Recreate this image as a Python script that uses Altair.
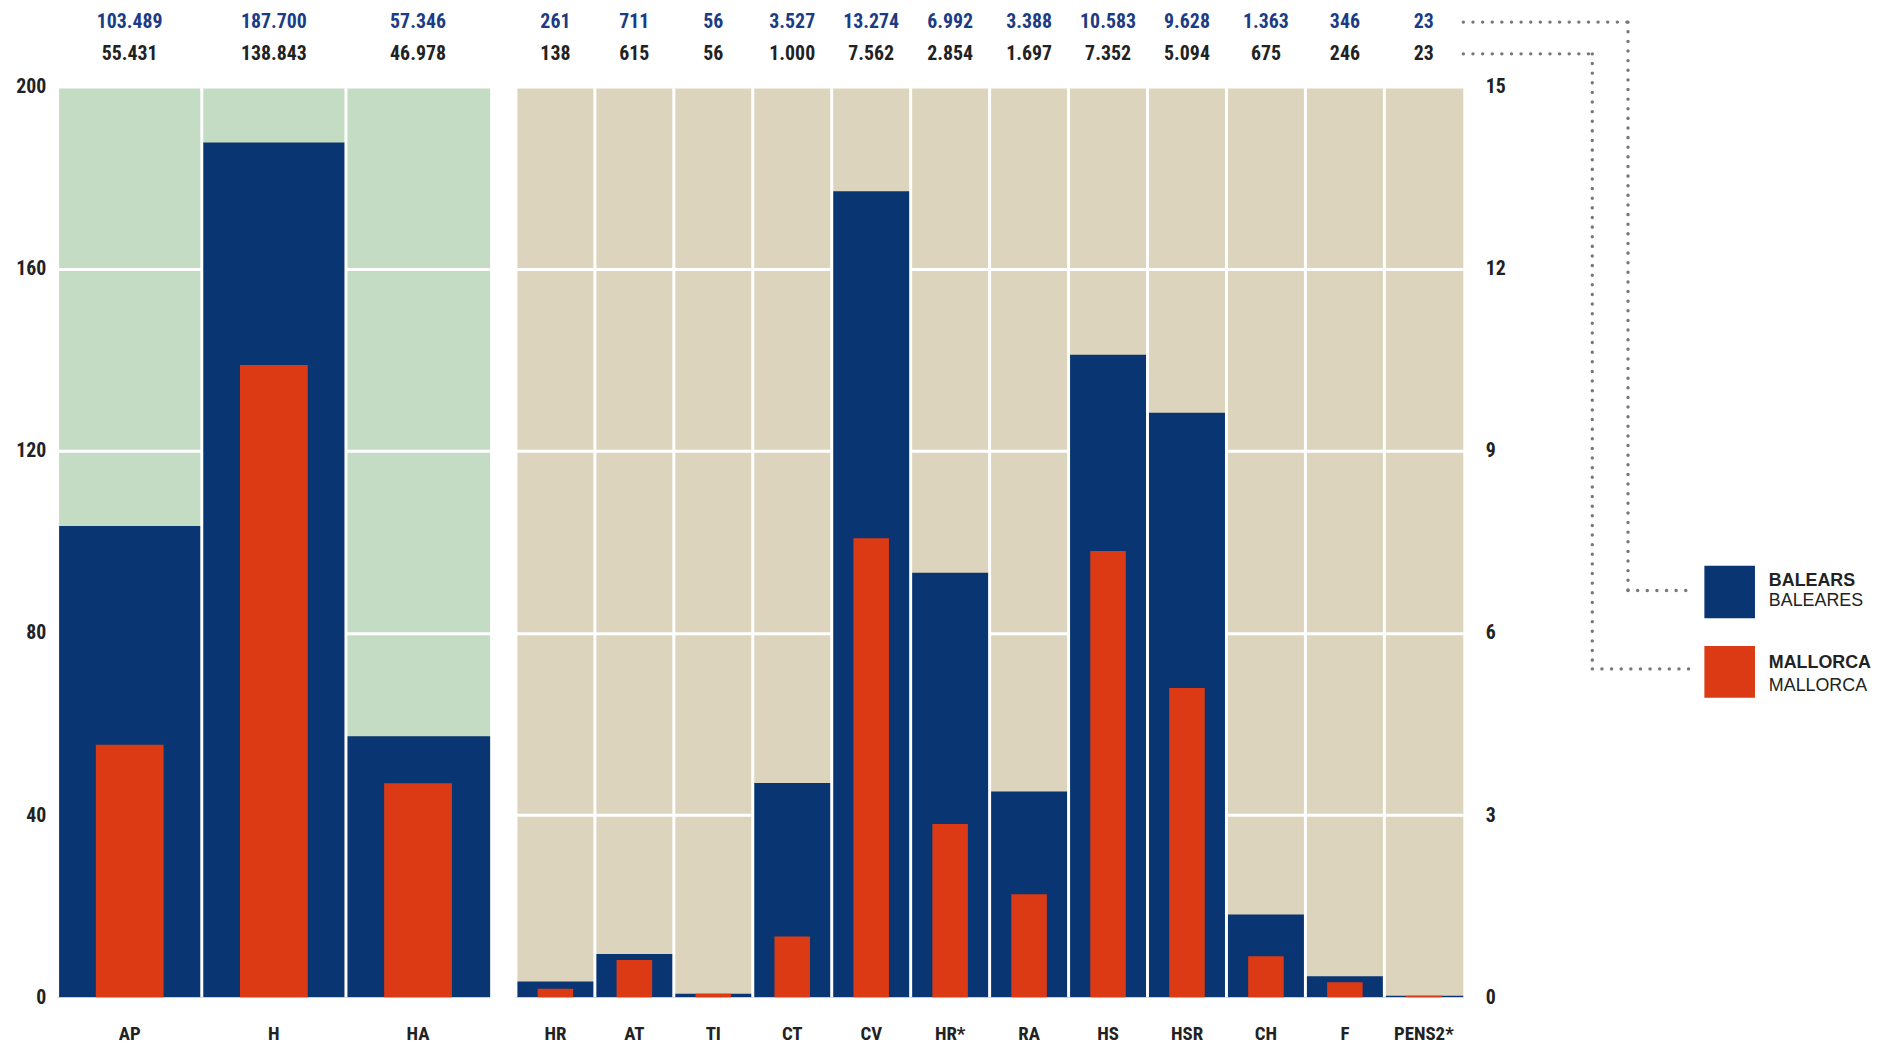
import altair as alt
import pandas as pd

# ---------------- data ----------------
cats_left = ["AP", "H", "HA"]
balears_left = [103489, 187700, 57346]
mallorca_left = [55431, 138843, 46978]

cats_right = ["HR", "AT", "TI", "CT", "CV", "HR*", "RA", "HS", "HSR", "CH", "F", "PENS2*"]
balears_right = [261, 711, 56, 3527, 13274, 6992, 3388, 10583, 9628, 1363, 346, 23]
mallorca_right = [138, 615, 56, 1000, 7562, 2854, 1697, 7352, 5094, 675, 246, 23]

left_ticks = [0, 40000, 80000, 120000, 160000, 200000]
right_ticks = [0, 3000, 6000, 9000, 12000, 15000]

legend_bold = ["BALEARS", "MALLORCA"]
legend_regular = ["BALEARES", "MALLORCA"]

# ---------------- style ----------------
NAVY = "#093672"
RED = "#dc3a15"
GREEN = "#c4dcc4"
BEIGE = "#dcd4bc"
TEXT_NAVY = "#1b3c84"
TEXT_DARK = "#222222"
DOT = "#777777"
FONT = "Roboto Condensed, Liberation Sans Narrow, Arial Narrow, DejaVu Sans Condensed, sans-serif"
H = 918
LW = 436
RW = 955


def fmt(v):
    return f"{v:,}".replace(",", ".")


def panel(cats, bal, mal, domain, ticks, orient, bg, width, red_band, label_pad):
    df = pd.DataFrame({
        "cat": cats,
        "bal": bal,
        "mal": mal,
        "bal_lbl": [fmt(v) for v in bal],
        "mal_lbl": [fmt(v) for v in mal],
    })
    xaxis = alt.Axis(title=None, domain=False, ticks=False, labelAngle=0,
                     labelAlign="center", labelBaseline="middle",
                     labelPadding=37, labelFontSize=19, labelFontWeight="bold",
                     labelColor=TEXT_DARK, labelFont=FONT, grid=False)
    xs = alt.Scale(paddingInner=0, paddingOuter=0)
    yaxis = alt.Axis(title=None, orient=orient, values=ticks,
                     labelExpr="datum.value / 1000", domain=False, ticks=False,
                     grid=True, gridColor="white", gridWidth=3,
                     labelPadding=label_pad, labelFontSize=20, labelFontWeight="bold",
                     labelColor=TEXT_DARK, labelFont=FONT)
    ys = alt.Scale(domain=domain, nice=False)
    base = alt.Chart(df)
    navy = base.mark_bar(color=NAVY).encode(
        x=alt.X("cat:N", sort=cats, scale=xs, axis=xaxis),
        y=alt.Y("bal:Q", scale=ys, axis=yaxis),
    )
    vgrid = base.mark_rule(color="white", strokeWidth=3).encode(
        x=alt.X("cat:N", sort=cats, bandPosition=0),
        y=alt.value(0), y2=alt.value(H),
    )
    red = base.mark_bar(color=RED, width=alt.RelativeBandSize(band=red_band)).encode(
        x=alt.X("cat:N", sort=cats),
        y=alt.Y("mal:Q"),
    )
    t1 = base.mark_text(font=FONT, fontSize=20, fontWeight="bold", color=TEXT_NAVY,
                        baseline="middle").encode(
        x=alt.X("cat:N", sort=cats), y=alt.value(-65), text="bal_lbl:N")
    t2 = base.mark_text(font=FONT, fontSize=20, fontWeight="bold", color=TEXT_DARK,
                        baseline="middle").encode(
        x=alt.X("cat:N", sort=cats), y=alt.value(-33), text="mal_lbl:N")
    return [navy, vgrid, red, t1, t2]


def seg(x1, x2, y1, y2):
    return alt.Chart(alt.Data(values=[{}])).mark_rule(
        color=DOT, strokeWidth=3.4, strokeDash=[0.1, 9.6], strokeCap="round"
    ).encode(x=alt.value(x1), x2=alt.value(x2), y=alt.value(y1), y2=alt.value(y2))


def box(color, y1, y2):
    return alt.Chart(alt.Data(values=[{}])).mark_rect(color=color).encode(
        x=alt.value(1198), x2=alt.value(1249), y=alt.value(y1), y2=alt.value(y2))


def label(text, y, bold):
    return alt.Chart(alt.Data(values=[{}])).mark_text(
        align="left", baseline="middle", fontSize=18,
        fontWeight="bold" if bold else "normal", color=TEXT_DARK,
        font="Liberation Sans, sans-serif").encode(
        x=alt.value(1263), y=alt.value(y), text=alt.value(text))


left = alt.layer(*panel(cats_left, balears_left, mallorca_left, [0, 200000],
                        left_ticks, "left", GREEN, LW, 0.47, 12)).properties(
    width=LW, height=H, view=alt.ViewBackground(fill=GREEN, stroke=None))

legend_layers = [
    seg(RW, 1121, -65, -65), seg(1121, 1121, -65, 508), seg(1121, 1187, 508, 508),
    seg(RW, 1085, -33, -33), seg(1085, 1085, -33, 587), seg(1085, 1187, 587, 587),
    box(NAVY, 483, 536), box(RED, 564, 616),
    label(legend_bold[0], 498, True), label(legend_regular[0], 519, False),
    label(legend_bold[1], 581, True), label(legend_regular[1], 604, False),
]

right = alt.layer(*panel(cats_right, balears_right, mallorca_right, [0, 15000],
                         right_ticks, "right", BEIGE, RW, 0.45, 22),
                  *legend_layers).properties(
    width=RW, height=H, view=alt.ViewBackground(fill=BEIGE, stroke=None))

chart = alt.hconcat(left, right, spacing=24).properties(
    padding={"left": 7, "top": 0, "right": 5, "bottom": 5}
).configure_view(stroke=None).configure(background="white")

chart.save("out.html", embed_options={"renderer": "svg", "actions": False})
